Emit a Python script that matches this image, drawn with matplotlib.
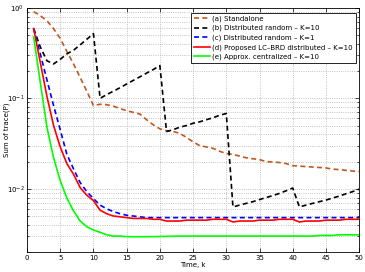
import matplotlib
matplotlib.use("Agg")
import matplotlib.pyplot as plt
import numpy as np

# time steps
k = np.arange(1, 51)

# (a) standalone
standalone = [0.91, 0.82, 0.72, 0.59, 0.46, 0.33, 0.24, 0.17, 0.12, 0.083,
              0.086, 0.085, 0.082, 0.077, 0.073, 0.070, 0.067, 0.058, 0.051, 0.046,
              0.044, 0.043, 0.041, 0.037, 0.033, 0.030, 0.029, 0.028, 0.026, 0.0245,
              0.024, 0.023, 0.022, 0.0215, 0.021, 0.020, 0.0198, 0.0195, 0.019, 0.018,
              0.0178, 0.0176, 0.0174, 0.0172, 0.017, 0.0165, 0.0163, 0.016, 0.0157, 0.0155]

# (b) distributed random K=10
dist_k10 = [0.59, 0.37, 0.26, 0.24, 0.27, 0.31, 0.34, 0.39, 0.45, 0.52,
            0.100, 0.110, 0.120, 0.131, 0.144, 0.158, 0.173, 0.190, 0.208, 0.230,
            0.043, 0.045, 0.048, 0.050, 0.053, 0.055, 0.058, 0.061, 0.065, 0.068,
            0.0063, 0.0066, 0.0069, 0.0072, 0.0076, 0.0080, 0.0084, 0.0089, 0.0095, 0.0102,
            0.0063, 0.0066, 0.0069, 0.0072, 0.0075, 0.0079, 0.0083, 0.0088, 0.0093, 0.0099]

# (c) distributed random K=1
dist_k1 = [0.59, 0.31, 0.16, 0.083, 0.045, 0.024, 0.0166, 0.0117, 0.0093, 0.0078,
           0.0066, 0.0060, 0.0056, 0.0053, 0.0051, 0.0050, 0.0049, 0.0048, 0.0048, 0.0048,
           0.0048, 0.0048, 0.0048, 0.0048, 0.0048, 0.0048, 0.0048, 0.0048, 0.0048, 0.0048,
           0.0048, 0.0048, 0.0048, 0.0048, 0.0048, 0.0048, 0.0048, 0.0048, 0.0048, 0.0048,
           0.0048, 0.0048, 0.0048, 0.0048, 0.0048, 0.0048, 0.0048, 0.0048, 0.0048, 0.0048]

# (d) proposed LC-BRD distributed K=10
proposed = [0.59, 0.25, 0.105, 0.050, 0.029, 0.019, 0.0145, 0.0103, 0.0085, 0.0074,
            0.0058, 0.0053, 0.0050, 0.0049, 0.0048, 0.0047, 0.0047, 0.0047, 0.0046, 0.0046,
            0.0044, 0.0044, 0.0044, 0.0045, 0.0045, 0.0045, 0.0045, 0.0046, 0.0046, 0.0046,
            0.0043, 0.0044, 0.0044, 0.0044, 0.0045, 0.0045, 0.0045, 0.0046, 0.0046, 0.0046,
            0.0043, 0.0044, 0.0044, 0.0044, 0.0045, 0.0045, 0.0045, 0.0046, 0.0046, 0.0046]

# (e) approx. centralized K=10
central = [0.48, 0.15, 0.048, 0.022, 0.0123, 0.0079, 0.0057, 0.0044, 0.0038, 0.0035,
           0.0033, 0.0031, 0.0030, 0.0030, 0.00296, 0.00295, 0.00295, 0.00295, 0.00296, 0.00297,
           0.00298, 0.00299, 0.0030, 0.0030, 0.0030, 0.0030, 0.0030, 0.0030, 0.0030, 0.0030,
           0.0030, 0.0030, 0.0030, 0.0030, 0.0030, 0.0030, 0.0030, 0.0030, 0.0030, 0.0030,
           0.0030, 0.0030, 0.0030, 0.00305, 0.00305, 0.00305, 0.0031, 0.0031, 0.0031, 0.0031]

labels = ["(a) Standalone",
          "(b) Distributed random \u2013 K=10",
          "(c) Distributed random \u2013 K=1",
          "(d) Proposed LC\u2013BRD distributed \u2013 K=10",
          "(e) Approx. centralized \u2013 K=10"]

fig = plt.figure(figsize=(3.65, 2.72), dpi=100)
ax = fig.add_axes([0.074, 0.0735, 0.910, 0.8975])

dash = (0, (3, 2))
ax.plot(k, standalone, color="#c0581f", lw=1.2, ls=dash, label=labels[0])
ax.plot(k, dist_k10, color="black", lw=1.2, ls=dash, label=labels[1])
ax.plot(k, dist_k1, color="blue", lw=1.2, ls=dash, label=labels[2])
ax.plot(k, proposed, color="red", lw=1.2, label=labels[3])
ax.plot(k, central, color="#00ff00", lw=1.2, label=labels[4])

ax.set_yscale("log")
ax.set_xlim(0, 50)
ax.set_ylim(2e-3, 1)
ax.set_xticks(np.arange(0, 51, 5))
ax.grid(True, which="major", ls=":", color="#b0b0b0", lw=0.6)
ax.grid(True, which="minor", axis="y", ls=":", color="#b0b0b0", lw=0.6)
ax.tick_params(which="both", direction="in", top=True, right=True, labelsize=5, pad=2)
ax.tick_params(which="major", length=3, width=0.5)
ax.tick_params(which="minor", length=1.5, width=0.5)
for s in ax.spines.values():
    s.set_linewidth(0.6)

ax.set_xlabel("Time, k", fontsize=5, labelpad=1)
ax.set_ylabel("Sum of trace(P)", fontsize=5)
ax.yaxis.set_label_coords(-0.052, 0.5)

leg = ax.legend(loc="upper right", fontsize=5, handlelength=2.3, borderpad=0.4,
                labelspacing=0.45, handletextpad=0.3, fancybox=False, framealpha=1,
                edgecolor="black", bbox_to_anchor=(1.0, 0.995))
leg.get_frame().set_linewidth(0.6)

fig.savefig("out.png", dpi=100)
